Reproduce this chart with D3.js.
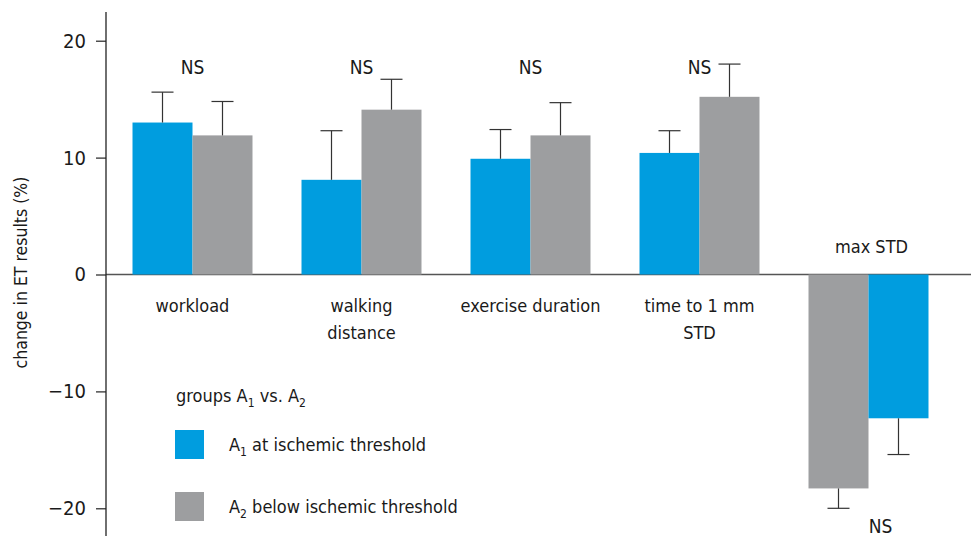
<!DOCTYPE html>
<html>
<head>
<meta charset="utf-8">
<script src="https://cdn.jsdelivr.net/npm/d3@7"></script>
<style>
  html, body { margin: 0; padding: 0; background: #fff; }
  svg text { font-family: "Liberation Sans Narrow", "DejaVu Sans Condensed", "Roboto", sans-serif; fill: #1a1a1a; }
</style>
</head>
<body>
<svg id="chart" width="971" height="536"></svg>
<script>
// Outcome categories (multi-line labels split on "|")
const categories = ["workload", "walking|distance", "exercise duration", "time to 1 mm|STD", "max STD"];
// Mean change (%) per group
const groupA1 = [13.0, 8.1, 9.9, 10.4, -12.3];
const groupA2 = [11.9, 14.1, 11.9, 15.2, -18.3];
// One-sided error bar length (%)
const errA1 = [2.6, 4.2, 2.5, 1.9, 3.1];
const errA2 = [2.9, 2.6, 2.8, 2.8, 1.7];
// Bar order inside each category
const barOrder = [["A1","A2"],["A1","A2"],["A1","A2"],["A1","A2"],["A2","A1"]];
// Significance labels
const sigLabels = ["NS", "NS", "NS", "NS", "NS"];
const yTicks = [-20, -10, 0, 10, 20];

const colors = { A1: "#009ddf", A2: "#9d9ea0" };
const values = { A1: groupA1, A2: groupA2 };
const errors = { A1: errA1, A2: errA2 };

const svg = d3.select("#chart");
const axisX = 106;

const y = d3.scaleLinear().domain([-20, 20]).range([508.3, 40.7]);
const x0 = d3.scaleBand().domain(categories).range([108, 953]).paddingInner(0.29).paddingOuter(0.145);
const x1 = d3.scaleBand().domain([0, 1]).range([0, x0.bandwidth()]);

// Zero baseline
svg.append("line")
  .attr("x1", axisX).attr("x2", 971)
  .attr("y1", y(0)).attr("y2", y(0))
  .attr("stroke", "#555").attr("stroke-width", 1.5);

// Bars and error bars
categories.forEach((cat, i) => {
  barOrder[i].forEach((g, j) => {
    const v = values[g][i];
    const e = errors[g][i];
    const bx = x0(cat) + x1(j);
    const bw = x1.bandwidth();
    svg.append("rect")
      .attr("x", bx).attr("width", bw)
      .attr("y", Math.min(y(v), y(0)))
      .attr("height", Math.abs(y(v) - y(0)))
      .attr("fill", colors[g]);
    const cx = bx + bw / 2;
    const tip = v >= 0 ? v + e : v - e;
    svg.append("line")
      .attr("x1", cx).attr("x2", cx)
      .attr("y1", y(v)).attr("y2", y(tip))
      .attr("stroke", "#333").attr("stroke-width", 1.2);
    svg.append("line")
      .attr("x1", cx - 11).attr("x2", cx + 11)
      .attr("y1", y(tip)).attr("y2", y(tip))
      .attr("stroke", "#333").attr("stroke-width", 1.2);
  });
});

// Y axis
const yAxis = d3.axisLeft(y).tickValues(yTicks).tickSize(10).tickPadding(10)
  .tickFormat(d => d < 0 ? "\u2212" + Math.abs(d) : d);
const gY = svg.append("g").attr("transform", `translate(${axisX},0)`).call(yAxis);
gY.select(".domain").remove();
gY.selectAll(".tick line").attr("stroke", "#222").attr("stroke-width", 1.2);
gY.selectAll(".tick text").attr("font-size", 20).style("fill", "#1a1a1a");
svg.append("line")
  .attr("x1", axisX).attr("x2", axisX)
  .attr("y1", 12).attr("y2", 536)
  .attr("stroke", "#222").attr("stroke-width", 1.3);

// Y axis title
svg.append("text")
  .attr("transform", `translate(27,${y(0) - 2}) rotate(-90)`)
  .attr("text-anchor", "middle")
  .attr("font-size", 17.5)
  .text("change in ET results (%)");

// Category labels
categories.forEach((cat, i) => {
  const cx = x0(cat) + x0.bandwidth() / 2;
  const lines = cat.split("|");
  if (i === 4) {
    svg.append("text").attr("x", cx + 3).attr("y", 253)
      .attr("text-anchor", "middle").attr("font-size", 18).text(cat);
    return;
  }
  lines.forEach((ln, k) => {
    svg.append("text").attr("x", cx).attr("y", 311.5 + k * 27.5)
      .attr("text-anchor", "middle").attr("font-size", 18).text(ln);
  });
});

// Significance labels
categories.forEach((cat, i) => {
  const cx = x0(cat) + x0.bandwidth() / 2;
  const yy = i === 4 ? 533 : 74;
  const dx = i === 4 ? 12 : 0;
  svg.append("text").attr("x", cx + dx).attr("y", yy)
    .attr("text-anchor", "middle").attr("font-size", 19).text(sigLabels[i]);
});

// Legend
const legend = svg.append("g");
const title = legend.append("text").attr("x", 176).attr("y", 402).attr("font-size", 18);
title.append("tspan").text("groups A");
title.append("tspan").attr("font-size", 12).attr("dy", 5).text("1");
title.append("tspan").attr("dy", -5).text(" vs. A");
title.append("tspan").attr("font-size", 12).attr("dy", 5).text("2");

const legendItems = [
  { key: "A1", sub: "1", label: " at ischemic threshold", y: 430 },
  { key: "A2", sub: "2", label: " below ischemic threshold", y: 492 }
];
legendItems.forEach(it => {
  legend.append("rect").attr("x", 175).attr("y", it.y).attr("width", 29).attr("height", 29).attr("fill", colors[it.key]);
  const t = legend.append("text").attr("x", 229).attr("y", it.y + 21).attr("font-size", 18);
  t.append("tspan").text("A");
  t.append("tspan").attr("font-size", 12).attr("dy", 5).text(it.sub);
  t.append("tspan").attr("dy", -5).text(it.label);
});
</script>
</body>
</html>
